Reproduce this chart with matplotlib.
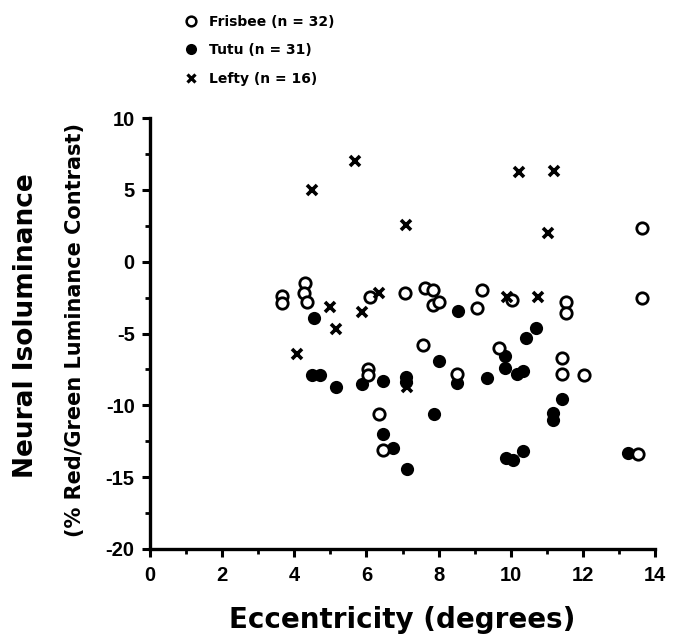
import matplotlib
matplotlib.use("Agg")
import matplotlib.pyplot as plt
from matplotlib.lines import Line2D
from matplotlib.ticker import MultipleLocator

plt.rcParams['font.family'] = ['Liberation Sans', 'DejaVu Sans']
plt.rcParams['font.weight'] = 'bold'
plt.rcParams['axes.unicode_minus'] = False

# Frisbee (open circles)
frisbee_x = [3.66, 3.66, 4.30, 4.28, 4.36, 6.10, 7.07, 7.62, 7.84, 7.84, 8.01,
             9.20, 9.07, 10.04, 11.53, 11.53, 13.63, 13.65, 7.57, 9.68, 11.42,
             11.42, 12.03, 8.51, 6.04, 6.04, 6.35, 6.46, 13.52]
frisbee_y = [-2.40, -2.85, -1.46, -2.20, -2.80, -2.45, -2.20, -1.81, -1.95, -2.99, -2.78,
             -1.95, -3.20, -2.64, -2.78, -3.55, 2.34, -2.53, -5.78, -5.98, -6.68,
             -7.79, -7.86, -7.79, -7.50, -7.86, -10.58, -13.08, -13.38]

# Tutu (filled circles)
tutu_x = [4.55, 4.49, 4.71, 5.16, 5.88, 6.46, 7.10, 7.10, 6.46, 6.74, 7.12,
          8.01, 8.51, 9.34, 9.84, 9.84, 10.17, 10.34, 10.42, 10.70, 8.54,
          11.42, 11.17, 11.17, 7.87, 9.87, 10.06, 10.34, 13.25]
tutu_y = [-3.90, -7.86, -7.86, -8.70, -8.50, -8.28, -8.00, -8.35, -11.97, -12.94, -14.40,
          -6.89, -8.42, -8.07, -6.54, -7.38, -7.79, -7.59, -5.29, -4.59, -3.41,
          -9.53, -10.50, -11.00, -10.58, -13.64, -13.78, -13.15, -13.29]

# Lefty (crosses)
lefty_x = [4.49, 5.68, 7.10, 10.23, 11.20, 11.03, 4.99, 5.16, 5.88, 6.35,
           9.90, 10.76, 4.08, 7.12]
lefty_y = [5.00, 7.03, 2.57, 6.26, 6.33, 2.02, -3.13, -4.66, -3.48, -2.16,
           -2.44, -2.44, -6.40, -8.70]

legend_labels = ['Frisbee (n = 32)', 'Tutu (n = 31)', 'Lefty (n = 16)']
x_ticks = [0, 2, 4, 6, 8, 10, 12, 14]
y_ticks = [-20, -15, -10, -5, 0, 5, 10]

fig = plt.figure(figsize=(6.74, 6.39), dpi=100)
ax = fig.add_axes([150/674, 1-549/639, (655-150)/674, (549-118)/639])

ax.plot(tutu_x, tutu_y, 'o', ms=9.5, mfc='black', mec='black', mew=0, ls='none', zorder=3)
ax.plot(frisbee_x, frisbee_y, 'o', ms=8.2, mfc='white', mec='black', mew=2.0, ls='none', zorder=4)
ax.plot(lefty_x, lefty_y, 'x', ms=6.5, mec='black', mew=2.6, ls='none', zorder=5)

ax.set_xlim(0, 14)
ax.set_ylim(-20, 10)
ax.set_xticks(x_ticks)
ax.set_yticks(y_ticks)
ax.xaxis.set_minor_locator(MultipleLocator(1))
ax.yaxis.set_minor_locator(MultipleLocator(2.5))
for s in ['top', 'right']:
    ax.spines[s].set_visible(False)
for s in ['left', 'bottom']:
    ax.spines[s].set_linewidth(2.4)
ax.tick_params(axis='both', which='major', direction='out', length=6, width=2.2,
               labelsize=14.5)
ax.tick_params(axis='x', which='major', pad=6)
ax.tick_params(axis='y', which='major', pad=5)
ax.tick_params(axis='both', which='minor', direction='out', length=3.5, width=2)
for lbl in ax.get_xticklabels() + ax.get_yticklabels():
    lbl.set_fontweight('bold')

ax.set_xlabel('Eccentricity (degrees)', fontsize=20, fontweight='bold', labelpad=15,
              family=['DejaVu Sans'])

fig.text(26/674, 1-326/639, 'Neural Isoluminance', rotation=90, fontsize=19,
         fontweight='bold', ha='center', va='center', family=['DejaVu Sans'])
fig.text(75/674, 1-330/639, '(% Red/Green Luminance Contrast)', rotation=90, fontsize=15,
         fontweight='bold', ha='center', va='center', family=['DejaVu Sans'])

handles = [
    Line2D([], [], marker='o', ls='none', ms=7, mfc='white', mec='black', mew=1.8),
    Line2D([], [], marker='o', ls='none', ms=8, mfc='black', mec='black', mew=0),
    Line2D([], [], marker='x', ls='none', ms=5.5, mec='black', mew=2.3),
]
leg = fig.legend(handles, legend_labels, loc='upper left',
                 bbox_to_anchor=(172/674, 1-2/639), frameon=False,
                 prop={'family': 'DejaVu Sans', 'weight': 'bold', 'size': 10},
                 handlelength=1.0, handletextpad=0.75, labelspacing=1.05)

fig.savefig('out.png', dpi=100)
